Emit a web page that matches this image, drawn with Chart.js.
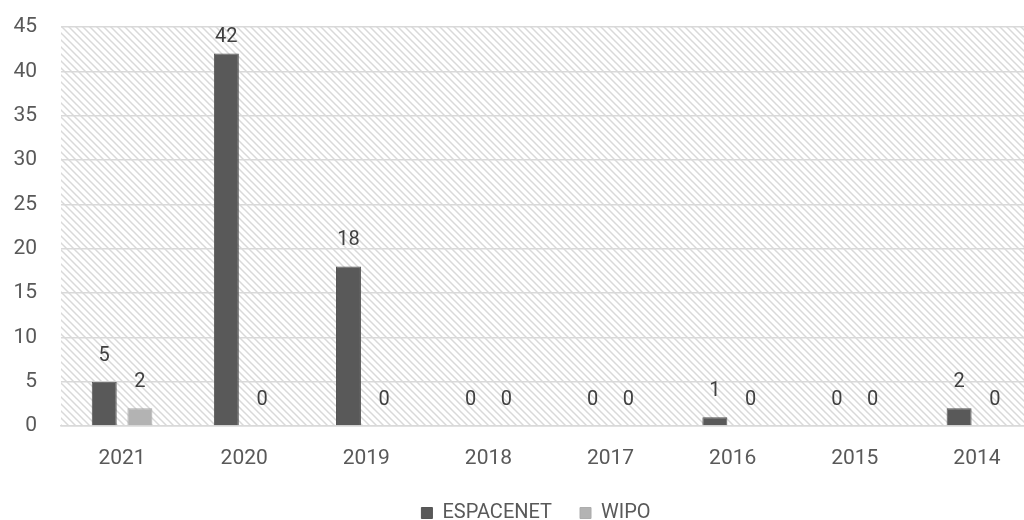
<!DOCTYPE html>
<html>
<head>
<meta charset="utf-8">
<script src="https://cdn.jsdelivr.net/npm/chart.js@4/dist/chart.umd.min.js"></script>
<style>
   html, body { margin: 0; padding: 0; background: #ffffff; }
   #wrap { width: 1024px; height: 520px; overflow: hidden; position: relative; }
   #box { width: 1070px; height: 533px; position: absolute; left: 0; top: 0; }
</style>
</head>
<body>
<div id="wrap">
   <div id="box"><canvas id="chart" width="1070" height="533"></canvas></div>
</div>
<script>
// Années (ordre décroissant comme dans le rapport)
const years = ['2021', '2020', '2019', '2018', '2017', '2016', '2015', '2014'];
// Nombre de brevets par base
const espacenet = [5, 42, 18, 0, 0, 1, 0, 2];
const wipo = [2, 0, 0, 0, 0, 0, 0, 0];
const yTicks = [0, 5, 10, 15, 20, 25, 30, 35, 40, 45];

const FONT = 'Roboto';

/* Motif hachuré pour le fond de la zone de tracé */
function makeHatch() {
   const s = 7;
   const c = document.createElement('canvas');
   c.width = s;
   c.height = s;
   const g = c.getContext('2d');
   g.fillStyle = '#ffffff';
   g.fillRect(0, 0, s, s);
   g.strokeStyle = '#d9d9d9';
   g.lineWidth = 1.5;
   g.beginPath();
   g.moveTo(-1, -1); g.lineTo(s + 1, s + 1);
   g.moveTo(-1, s - 1); g.lineTo(1, s + 1);
   g.moveTo(s - 1, -1); g.lineTo(s + 1, 1);
   g.stroke();
   return c;
}

const hatchBackground = {
   id: 'hatchBackground',
   beforeDraw(chart) {
      const {ctx, chartArea} = chart;
      ctx.save();
      ctx.fillStyle = ctx.createPattern(makeHatch(), 'repeat');
      ctx.fillRect(chartArea.left, chartArea.top, chartArea.right - chartArea.left, chartArea.bottom - chartArea.top);
      ctx.restore();
   }
};

// Légende un peu décalée vers la droite (centrée sous la zone utile)
const legendOffset = {
   id: 'legendOffset',
   afterLayout(chart) {
      if (chart.legend) chart.legend.left = 34;
   }
};

// Étiquettes de valeur au-dessus des barres
const valueLabels = {
   id: 'valueLabels',
   afterDatasetsDraw(chart) {
      const {ctx, chartArea} = chart;
      ctx.save();
      ctx.font = `20px ${FONT}`;
      ctx.fillStyle = '#404040';
      ctx.textAlign = 'center';
      ctx.textBaseline = 'alphabetic';
      chart.data.datasets.forEach((ds, i) => {
         chart.getDatasetMeta(i).data.forEach((bar, j) => {
            var y = bar.y - 21;
            if (y - 15 < chartArea.top) y = chartArea.top + 15;
            ctx.fillText(String(ds.data[j]), bar.x, y);
         });
      });
      ctx.restore();
   }
};

new Chart(document.getElementById('chart'), {
   type: 'bar',
   data: {
      labels: years,
      datasets: [{
         label: 'ESPACENET',
         data: espacenet,
         backgroundColor: '#595959',
         borderColor: '#555555',
         borderWidth: 1,
         categoryPercentage: 0.584,
         barPercentage: 0.70
      }, {
         label: 'WIPO',
         data: wipo,
         backgroundColor: '#b3b3b3',
         borderColor: '#adadad',
         borderWidth: 1,
         categoryPercentage: 0.584,
         barPercentage: 0.70
      }]
   },
   options: {
      responsive: false,
      animation: false,
      layout: {
         padding: { top: 27, right: 32, left: 0, bottom: 0 }
      },
      scales: {
         x: {
            grid: { display: false },
            border: { color: '#d9d9d9', width: 1.5 },
            ticks: {
               color: '#595959',
               font: { family: FONT, size: 21 },
               padding: 12,
               maxRotation: 0
            },
            afterFit(scale) { scale.height = 49; }
         },
         y: {
            min: 0,
            max: 45,
            afterBuildTicks(scale) {
               scale.ticks = yTicks.map(v => ({ value: v }));
            },
            grid: { color: '#d9d9d9', lineWidth: 1.5, drawTicks: false },
            border: { display: false },
            ticks: {
               color: '#595959',
               font: { family: FONT, size: 21 },
               padding: 24
            },
            afterFit(scale) {
               scale.width = 61;
               // le padding des graduations ne doit pas décaler le haut du graphique
               scale.paddingTop = 0;
               scale.paddingBottom = 0;
            }
         }
      },
      plugins: {
         legend: {
            position: 'bottom',
            labels: {
               color: '#595959',
               font: { family: FONT, size: 20 },
               boxWidth: 11,
               boxHeight: 11,
               padding: 28
            }
         },
         tooltip: { enabled: false }
      }
   },
   plugins: [hatchBackground, legendOffset, valueLabels]
});
</script>
</body>
</html>
